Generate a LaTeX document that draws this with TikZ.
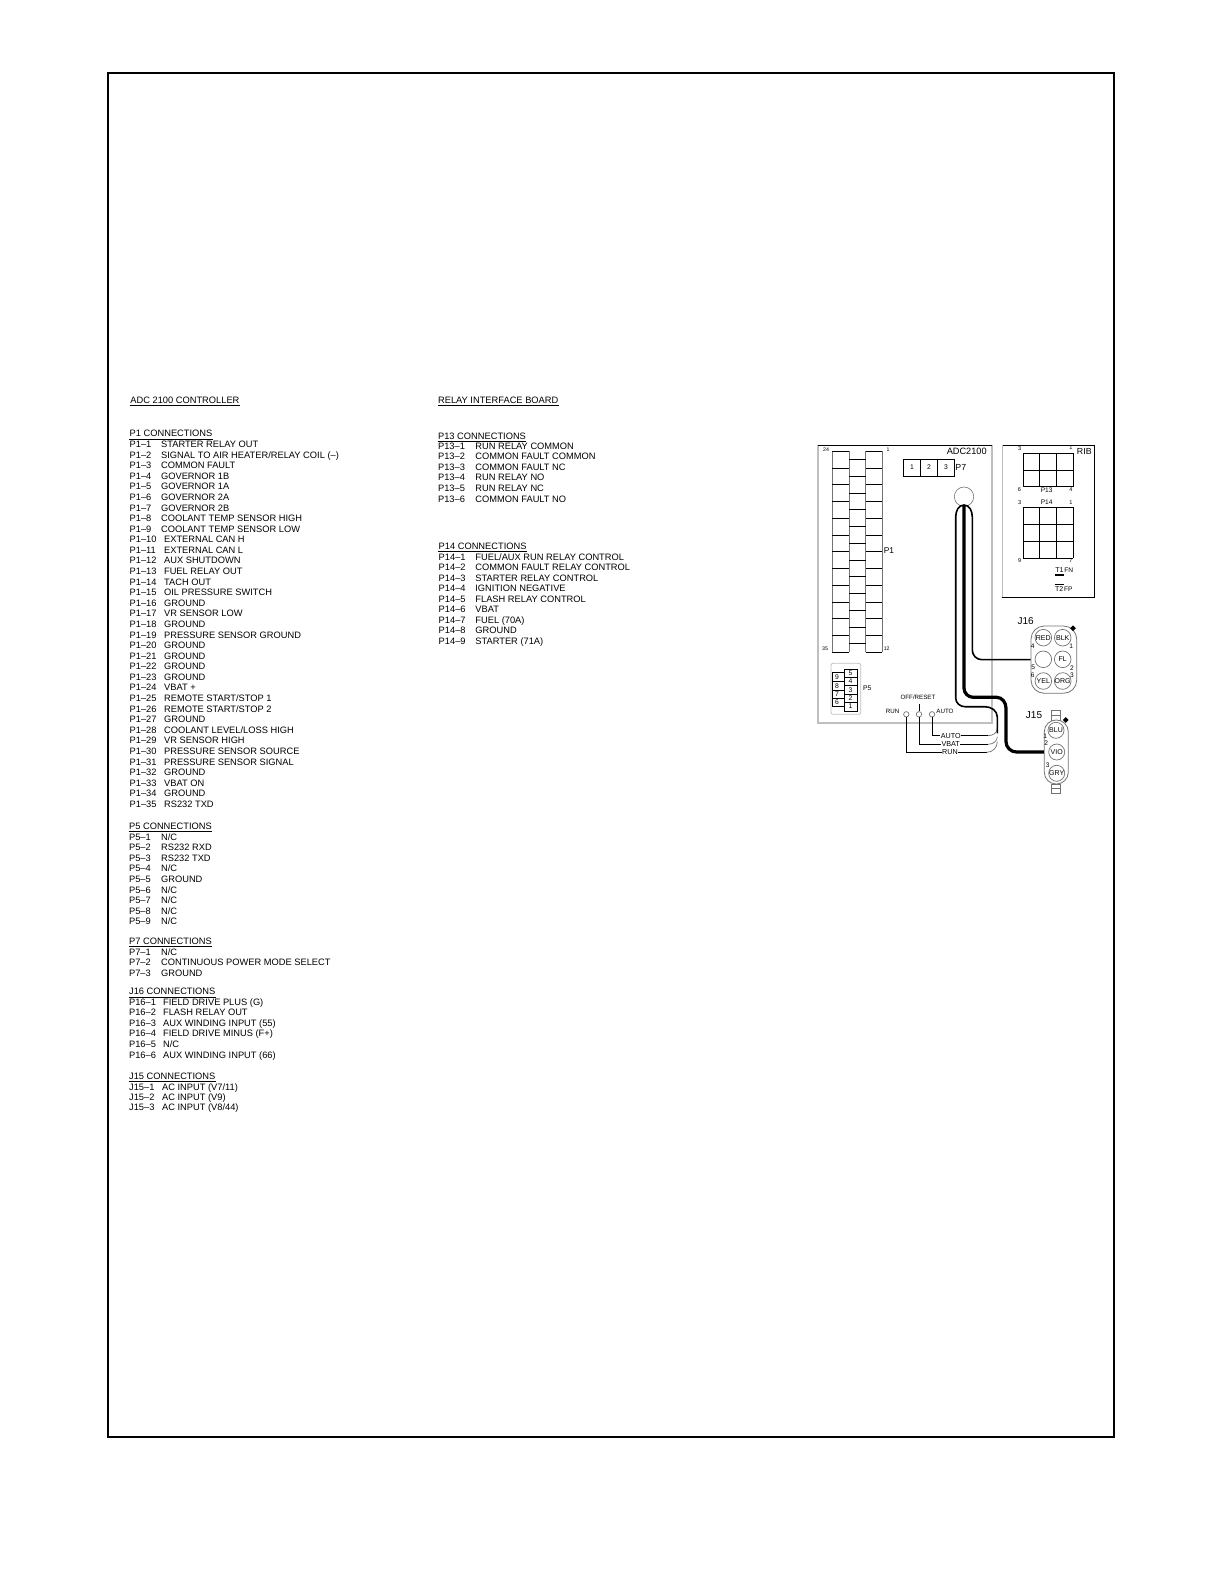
\documentclass[tikz,border=0pt]{standalone}
\usepackage{fontspec}
\setmainfont{Liberation Sans}
\usetikzlibrary{positioning,shapes.geometric}
\colorlet{wiregray}{black!55}
\colorlet{boxgray}{black!25}
\tikzset{
  lbl/.style = {inner sep=0pt,anchor=west,text height=3.3pt,text depth=0pt,font=\fontsize{4.65pt}{5pt}\selectfont},
  small/.style = {inner sep=0pt,font=\fontsize{#1}{#1}\selectfont},
  pinc/.style = {circle,draw=wiregray,line width=.35pt,minimum size=8.3pt,inner sep=0pt,font=\fontsize{3.5pt}{4pt}\selectfont},
  wire/.style = {line width=.8pt},
  heavy/.style = {line width=1.6pt},
  thinw/.style = {line width=.45pt},
  key/.style = {diamond,fill=black,inner sep=0pt,minimum size=3pt}
}
\begin{document}
\begin{tikzpicture}[x=.5pt,y=-.5pt]
    \useasboundingbox (0,0) rectangle (1224,1584);
    \draw[line width=1pt] (107.7,72.7) rectangle (1114,1436.7);
    % Left column
    \node[lbl] (adc) at (130,400) {ADC 2100 CONTROLLER};
    \node[lbl] (p1h) at (129.3,433.3) {P1 CONNECTIONS};
    \foreach \i/\desc in {1/STARTER RELAY OUT,2/{SIGNAL TO AIR HEATER/RELAY COIL (–)},3/COMMON FAULT,4/GOVERNOR 1B,5/GOVERNOR 1A,6/GOVERNOR 2A,7/GOVERNOR 2B,8/COOLANT TEMP SENSOR HIGH,9/COOLANT TEMP SENSOR LOW} {
      \node[lbl] (p1-\i) at (129.3,{444.3+10.58*(\i-1)}) {P1–\i};
      \node[lbl] (p1d-\i) at (160.7,{444.3+10.58*(\i-1)}) {\desc};
    }
    \foreach \i/\desc in {10/EXTERNAL CAN H,11/EXTERNAL CAN L,12/AUX SHUTDOWN,13/FUEL RELAY OUT,14/TACH OUT,15/OIL PRESSURE SWITCH,16/GROUND,17/VR SENSOR LOW,18/GROUND,19/PRESSURE SENSOR GROUND,20/GROUND,21/GROUND,22/GROUND,23/GROUND,24/VBAT +,25/{REMOTE START/STOP 1},26/{REMOTE START/STOP 2},27/GROUND,28/{COOLANT LEVEL/LOSS HIGH},29/VR SENSOR HIGH,30/PRESSURE SENSOR SOURCE,31/PRESSURE SENSOR SIGNAL,32/GROUND,33/VBAT ON,34/GROUND,35/RS232 TXD} {
      \node[lbl] (p1-\i) at (129.3,{444.3+10.58*(\i-1)}) {P1–\i};
      \node[lbl] (p1d-\i) at (163.7,{444.3+10.58*(\i-1)}) {\desc};
    }
    \node[lbl] (p5h) at (128.7,826) {P5 CONNECTIONS};
    \foreach \i/\desc in {1/N{/}C,2/RS232 RXD,3/RS232 TXD,4/N{/}C,5/GROUND,6/N{/}C,7/N{/}C,8/N{/}C,9/N{/}C} {
      \node[lbl] (p5-\i) at (128.7,{837+10.54*(\i-1)}) {P5–\i};
      \node[lbl] (p5d-\i) at (160.7,{837+10.54*(\i-1)}) {\desc};
    }
    \node[lbl] (p7h) at (128.7,941) {P7 CONNECTIONS};
    \foreach \i/\desc in {1/N{/}C,2/CONTINUOUS POWER MODE SELECT,3/GROUND} {
      \node[lbl] (p7-\i) at (128.7,{952+10.35*(\i-1)}) {P7–\i};
      \node[lbl] (p7d-\i) at (160.7,{952+10.35*(\i-1)}) {\desc};
    }
    \node[lbl] (j16h) at (128.7,991.3) {J16 CONNECTIONS};
    \foreach \i/\desc in {1/FIELD DRIVE PLUS (G),2/FLASH RELAY OUT,3/AUX WINDING INPUT (55),4/FIELD DRIVE MINUS (F+),5/N{/}C,6/AUX WINDING INPUT (66)} {
      \node[lbl] (p16-\i) at (128.7,{1001.7+10.6*(\i-1)}) {P16–\i};
      \node[lbl] (p16d-\i) at (162.7,{1001.7+10.6*(\i-1)}) {\desc};
    }
    \node[lbl] (j15h) at (128.7,1075.7) {J15 CONNECTIONS};
    \foreach \i/\desc in {1/{AC INPUT (V7/11)},2/AC INPUT (V9),3/{AC INPUT (V8/44)}} {
      \node[lbl] (j15-\i) at (128.7,{1086.7+10.3*(\i-1)}) {J15–\i};
      \node[lbl] (j15d-\i) at (161.7,{1086.7+10.3*(\i-1)}) {\desc};
    }
    % Middle column
    \node[lbl] (rib) at (437.7,400) {RELAY INTERFACE BOARD};
    \node[lbl] (p13h) at (437.7,435.7) {P13 CONNECTIONS};
    \foreach \i/\desc in {1/RUN RELAY COMMON,2/COMMON FAULT COMMON,3/COMMON FAULT NC,4/RUN RELAY NO,5/RUN RELAY NC,6/COMMON FAULT NO} {
      \node[lbl] (p13-\i) at (437.7,{446+10.54*(\i-1)}) {P13–\i};
      \node[lbl] (p13d-\i) at (475,{446+10.54*(\i-1)}) {\desc};
    }
    \node[lbl] (p14h) at (438.3,546) {P14 CONNECTIONS};
    \foreach \i/\desc in {1/{FUEL/AUX RUN RELAY CONTROL},2/COMMON FAULT RELAY CONTROL,3/STARTER RELAY CONTROL,4/IGNITION NEGATIVE,5/FLASH RELAY CONTROL,6/VBAT,7/FUEL (70A),8/GROUND,9/STARTER (71A)} {
      \node[lbl] (p14-\i) at (438.3,{556.7+10.54*(\i-1)}) {P14–\i};
      \node[lbl] (p14d-\i) at (475,{556.7+10.54*(\i-1)}) {\desc};
    }
    % Underlines
    \foreach \h in {adc,p1h,p5h,p7h,j16h,j15h,rib,p13h,p14h}
      \draw[line width=.5pt] ([yshift=-1pt]\h.south west) -- ([yshift=-1pt]\h.south east);
    % ADC board
    \draw[boxgray,line width=.8pt] (818,445) -- (818,722.7) -- (992,722.7) -- (992,445);
    \draw[line width=.45pt] (818,445) -- (992,445);
    \node[small=4.6pt] (adcname) at (966.7,451.7) {ADC2100};
    % P1 connector
    \foreach \x in {832.3,849,865.7,882.3}
      \draw[wiregray,line width=.4pt] (\x,451.3) -- (\x,652.3);
    \foreach \k in {0,...,12} {
      \draw[line width=.4pt] (832.3,{451.3+16.75*\k}) -- (849,{451.3+16.75*\k});
      \draw[line width=.4pt] (865.7,{451.3+16.75*\k}) -- (882.3,{451.3+16.75*\k});
    }
    \foreach \k in {0,...,11}
      \draw[line width=.4pt] (849,{459.5+16.75*\k}) -- (865.7,{459.5+16.75*\k});
    \node[small=2.6pt] (p1a) at (826,450) {24};
    \node[small=2.6pt] (p1b) at (888,450) {1};
    \node[small=2.6pt] (p1c) at (825,649) {35};
    \node[small=2.6pt] (p1d) at (886.7,649) {12};
    \node[small=4.2pt] (p1name) at (889,551) {P1};
    % P7 connector
    \draw[line width=.45pt] (903.7,459.3) rectangle (954.3,476.3);
    \foreach \x/\n in {912/1,929/2,946/3}
      \node[small=3.4pt] (p7n\n) at (\x,467.6) {\n};
    \foreach \x in {920.3,937.7}
      \draw[line width=.45pt] (\x,459.3) -- (\x,476.3);
    \node[small=4.4pt,anchor=west] (p7name) at (955,467.3) {P7};
    % P5 connector
    \draw[boxgray,line width=.4pt,rounded corners=1pt] (831,663.3) rectangle (860.7,714.3);
    \draw[line width=.4pt] (844.7,669) rectangle (857.3,711);
    \foreach \y in {677.3,685.7,694.3,702.3}
      \draw[line width=.4pt] (844.7,\y) -- (857.3,\y);
    \draw[line width=.4pt] (832.3,672.7) -- (844.7,672.7) (832.3,706.7) -- (844.7,706.7) (832.3,672.7) -- (832.3,706.7)
      (832.3,681.3) -- (844.7,681.3) (832.3,690) -- (844.7,690) (832.3,698.7) -- (844.7,698.7);
    \foreach \y/\n in {672.7/5,681.3/4,689.7/3,698/2,706/1}
      \node[small=3.4pt] (p5r\n) at (850.5,\y) {\n};
    \foreach \y/\n in {677/9,685.7/8,694/7,702.3/6}
      \node[small=3.4pt] (p5l\n) at (837,\y) {\n};
    \node[small=3.4pt] (p5name) at (867.3,688.3) {P5};
    % Switch
    \node[small=3.1pt] (runlbl) at (892.7,711.7) {RUN};
    \node[small=3.1pt] (offlbl) at (918,697.3) {OFF/RESET};
    \node[small=3.1pt] (autolbl) at (945,711.7) {AUTO};
    \foreach \nm/\x in {run/906.3,off/919,auto/932}
      \node[circle,draw=wiregray,line width=.35pt,minimum size=2.7pt,inner sep=0pt] (sw\nm) at (\x,714.3) {};
    \coordinate (swtop) at (919,704);
    \draw[thinw] (swtop) -- (swoff);
    \node[small=3.6pt] (wauto) at (950.7,735.7) {AUTO};
    \node[small=3.6pt] (wvbat) at (950.7,744.3) {VBAT};
    \node[small=3.6pt] (wrun) at (950,752.3) {RUN};
    \draw[thinw] (swauto) |- (wauto);
    \draw[thinw] (swoff) |- (wvbat);
    \draw[thinw] (swrun) |- (wrun);
    \coordinate (endauto) at (997.3,728.3);
    \coordinate (endvbat) at (997.3,736.7);
    \coordinate (endrun) at (997.3,741.7);
    \draw[thinw] (wauto) -- (988,735.7);
    \draw[thinw] (wvbat) -- (988,744.3);
    \draw[thinw] (wrun) -- (986.7,752.3);
    \draw[wiregray,line width=.35pt] (988,735.7) to[out=0,in=-90] (endauto);
    \draw[wiregray,line width=.35pt] (988,744.3) to[out=0,in=-90] (endvbat);
    \draw[wiregray,line width=.35pt] (986.7,752.3) to[out=0,in=-90] (endrun);
    % Terminal circle and cable
    \node[circle,draw=wiregray,line width=.3pt,minimum size=9.7pt,inner sep=0pt] (term) at (964,496.7) {};
    \coordinate (cabletop) at (964,505);
    \coordinate (bundle) at (997.3,733.3);
    % J16 plug
    \node[draw=wiregray,rectangle,rounded corners=6.5pt,line width=.4pt,minimum width=22.8pt,minimum height=33.6pt,inner sep=0pt] (j16box) at (1053.85,659.65) {};
    \node[small=5pt] (j16name) at (1025.7,620.7) {J16};
    \node[pinc] (j16red) at (1043.3,637.7) {RED};
    \node[pinc] (j16blk) at (1062.7,637.7) {BLK};
    \node[pinc] (j16e) at (1043.3,659.3) {};
    \node[pinc] (j16fl) at (1062.7,659.3) {FL};
    \node[pinc] (j16yel) at (1043.3,681) {YEL};
    \node[pinc] (j16org) at (1062.7,681) {ORG};
    \node[key] (j16key) at (1073,628.3) {};
    \foreach \x/\y/\n in {1032.7/646/4,1071.3/646/1,1033.3/667.7/5,1072/667.7/2,1032.7/675.7/6,1072/675.7/3}
      \node[small=3.3pt] (j16n\n) at (\x,\y) {\n};
    % J15 plug
    \draw[wiregray,line width=.35pt] (1051.7,710) rectangle (1060,720) (1051.7,715) -- (1060,715);
    \draw[wiregray,line width=.35pt] (1051.7,784) rectangle (1060,793.3) (1051.7,788.7) -- (1060,788.7);
    \node[draw=wiregray,fill=white,rectangle,rounded corners=5.9pt,line width=.4pt,minimum width=12pt,minimum height=32pt,inner sep=0pt] (j15box) at (1056.3,752) {};
    \node[small=5pt] (j15name) at (1034,715) {J15};
    \node[pinc,minimum size=8pt] (j15blu) at (1056,730.3) {BLU};
    \node[pinc,minimum size=8pt] (j15vio) at (1056.7,752) {VIO};
    \node[pinc,minimum size=8pt] (j15gry) at (1056.7,773.3) {GRY};
    \node[key] (j15key) at (1065.7,720) {};
    \foreach \x/\y/\n in {1045.3/736/1,1046.3/743.3/2,1047.7/765.7/3}
      \node[small=3.3pt] (j15n\n) at (\x,\y) {\n};
    % Cable
    \draw[wire] (cabletop) to[out=180,in=90] (955.7,517) -- (955.7,698) to[out=-90,in=180] (965,706.7)
      -- (985,706.7) to[out=0,in=90] (997.3,717) -- (bundle);
    \draw[wire] (cabletop) to[out=0,in=90] (972.3,517) -- (972.3,650) to[out=-90,in=180] (981.7,659.65) -- (j16box.west);
    \draw[heavy] (cabletop) -- (964,688) to[out=-90,in=180] (973.3,697.3) -- (996.7,697.3)
      to[out=0,in=90] (1006,708.3) -- (1006,741.7) to[out=-90,in=180] (1016.7,752) -- (j15box.west);
    % RIB board
    \draw[line width=.5pt] (1002,445) -- (1094.7,445) -- (1094.7,597.3) -- (1002,597.3);
    \draw[boxgray,line width=.5pt] (1002,445) -- (1002,597.3);
    \node[small=4.4pt] (ribname) at (1084.3,451.7) {RIB};
    \foreach \x in {1023.3,1039.7,1056.7,1073.3} {
      \draw[line width=.45pt] (\x,453.3) -- (\x,486.7);
      \draw[line width=.45pt] (\x,507.3) -- (\x,558.3);
    }
    \foreach \y in {453.3,470,486.7}
      \draw[line width=.45pt] (1023.3,\y) -- (1073.3,\y);
    \foreach \y in {507.3,524.3,541,558.3}
      \draw[line width=.45pt] (1023.3,\y) -- (1073.3,\y);
    \foreach \x/\y/\n/\nm in {1019.7/449/3/a,1071/447.3/1/b,1019.3/490/6/c,1071/490/4/d,1019.7/502.3/3/e,1071/502.3/1/f,1019.7/561/9/g,1071/561/7/h}
      \node[small=2.8pt] (ribn\nm) at (\x,\y) {\n};
    \node[small=3.3pt] (p13name) at (1046.7,490.3) {P13};
    \node[small=3.3pt] (p14name) at (1046.7,502.3) {P14};
    \node[small=3.5pt,anchor=west] (t1) at (1055,570) {T1};
    \node[small=3.3pt,right=0pt of t1] (t1fn) {FN};
    \node[small=3.5pt,anchor=west] (t2) at (1054.7,589.3) {T2};
    \node[small=3.3pt,right=0pt of t2] (t2fp) {FP};
    \draw[line width=1pt] ([yshift=-1pt]t1.south west) -- ([yshift=-1pt]t1.south east);
    \draw[line width=.4pt] ([yshift=1pt]t2.north west) -- ([yshift=1pt]t2.north east);
\end{tikzpicture}
\end{document}
